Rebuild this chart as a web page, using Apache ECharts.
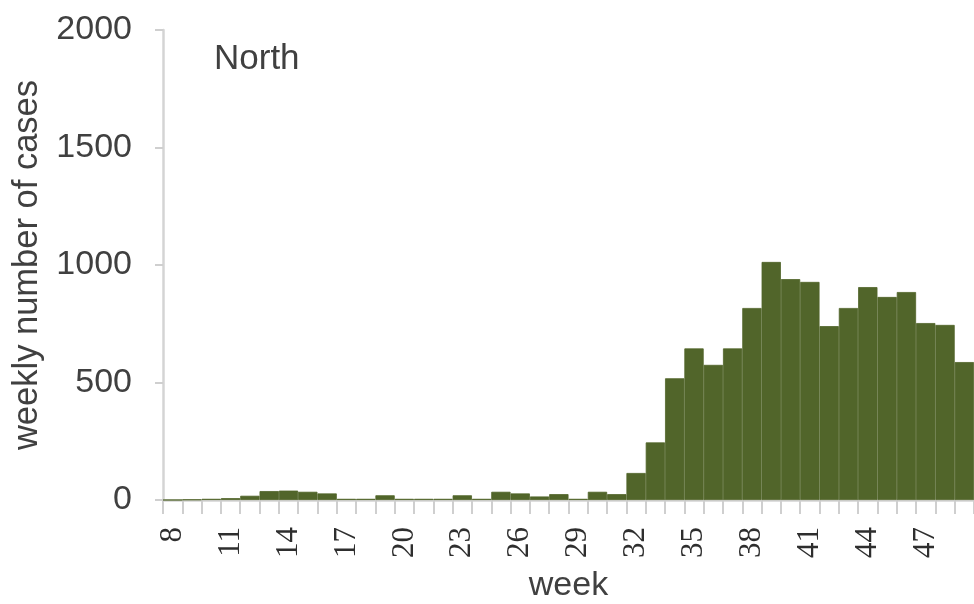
<!DOCTYPE html>
<html>
<head>
<meta charset="utf-8">
<script src="https://cdn.jsdelivr.net/npm/echarts@6/dist/echarts.min.js"></script>
<style>
html,body{margin:0;padding:0;background:#fff;}
#chart{width:974px;height:604px;}
</style>
</head>
<body>
<div id="chart"></div>
<script>
var weeks = [8,9,10,11,12,13,14,15,16,17,18,19,20,21,22,23,24,25,26,27,28,29,30,31,32,33,34,35,36,37,38,39,40,41,42,43,44,45,46,47,48,49];
var cases = [0,2,5,8,18,38,40,35,28,5,5,20,5,5,5,20,5,35,28,15,25,5,35,25,115,245,518,645,575,645,817,1013,940,928,740,817,906,864,885,753,745,587];
var yTicks = [0,500,1000,1500,2000];
var panelLabel = 'North';
var xName = 'week';
var yName = 'weekly number of cases';

var chart = echarts.init(document.getElementById('chart'));
chart.setOption({
  animation: false,
  backgroundColor: '#ffffff',
  title: {
    text: panelLabel,
    left: 209, top: 37,
    textStyle: {fontFamily: 'Liberation Sans', fontSize: 35, fontWeight: 'normal', color: '#404040'}
  },
  grid: {left: 163, right: 0, top: 30, height: 470, containLabel: false, outerBoundsMode: 'none'},
  xAxis: {
    type: 'category',
    data: weeks.map(String),
    boundaryGap: true,
    name: xName,
    nameLocation: 'middle',
    nameGap: 69,
    nameTextStyle: {fontFamily: 'Liberation Sans', fontSize: 34, color: '#404040'},
    axisLine: {show: true, lineStyle: {color: '#d4d4d4', width: 2.5}},
    axisTick: {show: true, interval: 0, length: 14, lineStyle: {color: '#cfcfcf', width: 2}},
    axisLabel: {interval: 2, rotate: 90, margin: 27, fontFamily: 'Liberation Serif', fontSize: 31, color: '#2e2e2e'}
  },
  yAxis: {
    type: 'value',
    min: yTicks[0], max: yTicks[yTicks.length - 1], interval: yTicks[1] - yTicks[0],
    name: yName,
    nameLocation: 'middle',
    nameGap: 117,
    nameRotate: 90,
    nameTextStyle: {fontFamily: 'Liberation Sans', fontSize: 34.5, color: '#404040'},
    axisLine: {show: true, lineStyle: {color: '#d4d4d4', width: 2.5}},
    axisTick: {show: true, length: 8, lineStyle: {color: '#cfcfcf', width: 2}},
    axisLabel: {margin: 31, fontFamily: 'Liberation Sans', fontSize: 34, color: '#404040',
      formatter: function (v) { return String(v); }},
    splitLine: {show: false}
  },
  series: [{
    type: 'bar',
    data: cases,
    barWidth: '100%',
    barCategoryGap: '0%',
    itemStyle: {color: '#51652a', borderColor: '#51652a', borderWidth: 0.8}
  }]
});
</script>
</body>
</html>
